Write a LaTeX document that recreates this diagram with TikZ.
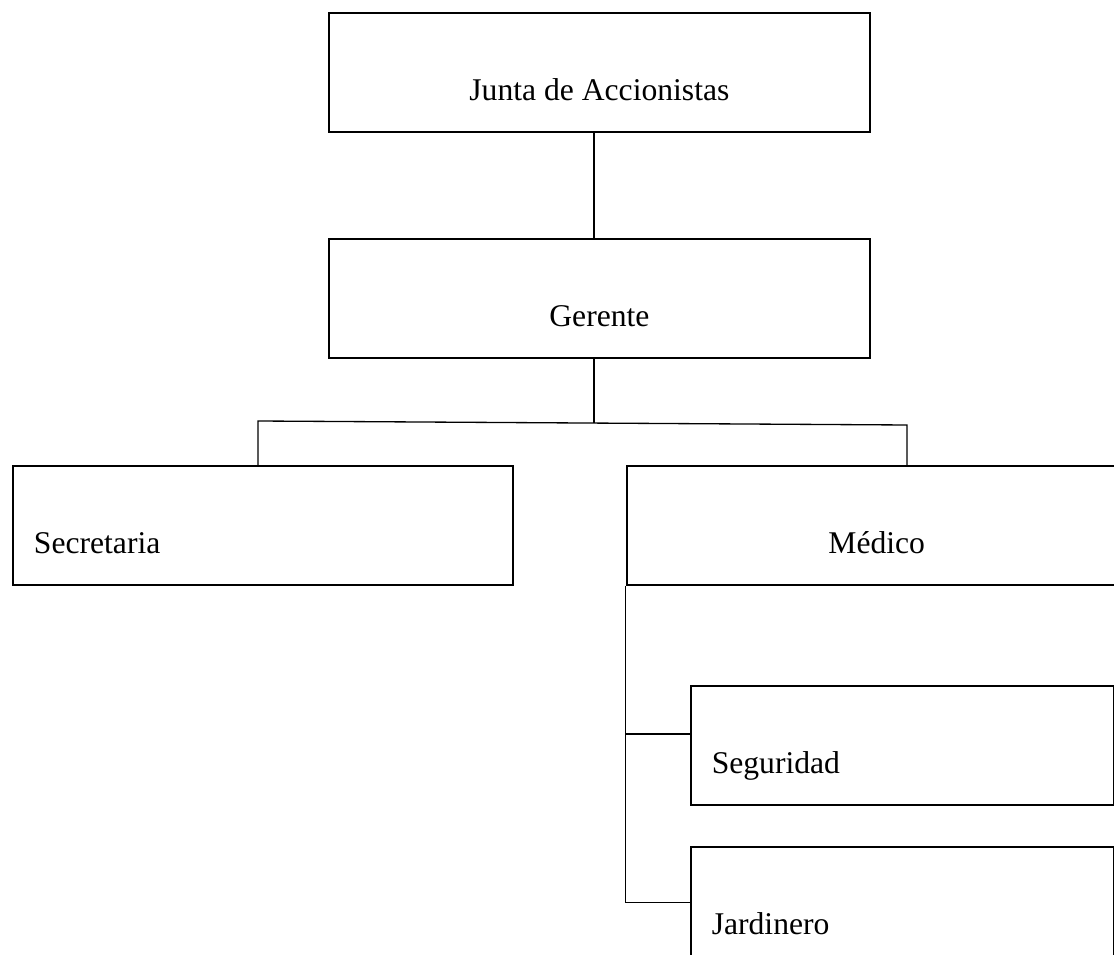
\documentclass[tikz,border=0pt]{standalone}
\usepackage{fontspec}
\setmainfont{Liberation Serif}
\usetikzlibrary{positioning}
\tikzset{
    caja/.style={
        rectangle,
        draw,
        line width=1.1pt,
        inner sep=0pt,
        text height=1.76cm,
        text depth=0.62cm
    },
    cajacentro/.style={caja, minimum width=#1},
    cajaizq/.style={caja, inner xsep=0.42cm, text width=#1, align=left},
    enlace/.style={line width=0.75pt}
}

\begin{document}
\begin{tikzpicture}[x=0.02cm, y=-0.02cm, node distance=2.1cm, font=\fontsize{18}{22}\selectfont]
        \clip (0,0) rectangle (1114,955);

        \node[cajacentro=10.82cm, anchor=north west] (junta) at (328,12)
            {Junta de Accionistas};
        \node[cajacentro=10.82cm, below=2.1cm of junta] (gerente)
            {Gerente};
        \node[cajaizq=9.16cm, anchor=north west] (secretaria) at (12,465)
            {Secretaria};
        \node[cajacentro=10cm, right=2.24cm of secretaria] (medico)
            {Médico};
        \node[cajaizq=7.62cm, below right=1.98cm and 1.28cm of medico.south west] (seguridad)
            {Seguridad};
        \node[cajaizq=7.62cm, below=0.8cm of seguridad] (jardinero)
            {Jardinero};

        \coordinate (rama) at (594,423);
        \coordinate (ramaizq) at (258,421);
        \coordinate (ramader) at (907,425);

        \draw[enlace] (junta.south -| rama) -- (gerente.north -| rama);
        \draw[enlace] (gerente.south -| rama) -- (rama);
        \draw[enlace] (secretaria.north -| ramaizq) -- (ramaizq) -- (ramader) -- (medico.north -| ramader);
        \draw[enlace] (medico.south west) |- ([yshift=-0.98cm]seguridad.north west);
        \draw[enlace] (medico.south west) |- ([yshift=-1.14cm]jardinero.north west);
    \end{tikzpicture}
\end{document}
